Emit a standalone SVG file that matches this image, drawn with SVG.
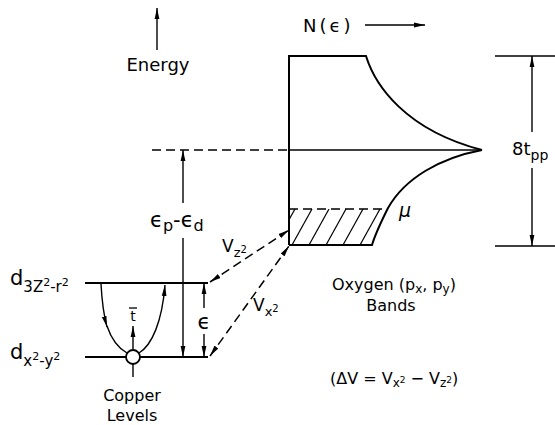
<svg xmlns="http://www.w3.org/2000/svg" width="555" height="425" viewBox="0 0 555 425" font-size="16">
<style>
.ln{stroke:#000;stroke-width:2;fill:none}
.th{stroke:#000;stroke-width:1.4;fill:none}
.ds{stroke:#000;stroke-width:1.5;fill:none;stroke-dasharray:9 5}
.hat{stroke:#000;stroke-width:1.2}
text{font-family:"DejaVu Sans","Liberation Sans",sans-serif;fill:#000}
</style>
<defs>
<marker id="ah" viewBox="0 0 11 6" refX="11" refY="3" markerWidth="11" markerHeight="6" markerUnits="userSpaceOnUse" orient="auto-start-reverse">
<path d="M0,0.6 L11,3 L0,5.4 Z" fill="#000"/>
</marker>
<clipPath id="hclip"><polygon points="289,209 388,209 372,245 289,245"/></clipPath>
</defs>

<g id="energy-axis">
<line class="th" x1="157" y1="50" x2="157" y2="8" stroke-width="1.8" marker-end="url(#ah)"/>
<text x="158" y="71" text-anchor="middle" font-size="18">Energy</text>
</g>

<g id="dos-axis">
<text x="303" y="32" font-size="18" letter-spacing="3">N(ϵ)</text>
<line class="th" x1="365" y1="25" x2="425" y2="25" marker-end="url(#ah)"/>
</g>

<g id="oxygen-band">
<path class="ln" d="M289,245 L289,56 L366,56 C375,85 405,130 482,150"/>
<path class="ln" d="M482,150 C440,158 405,178 388,208 C381,222 375,235 372,245 L289,245"/>
<line class="th" x1="289" y1="150" x2="482" y2="150"/>
<g clip-path="url(#hclip)">
<line class="hat" x1="275" y1="245" x2="295" y2="209"/>
<line class="hat" x1="292" y1="245" x2="312" y2="209"/>
<line class="hat" x1="309" y1="245" x2="329" y2="209"/>
<line class="hat" x1="326" y1="245" x2="346" y2="209"/>
<line class="hat" x1="343" y1="245" x2="363" y2="209"/>
<line class="hat" x1="360" y1="245" x2="380" y2="209"/>
<line class="hat" x1="377" y1="245" x2="397" y2="209"/>
</g>
<line class="ds" x1="289" y1="209" x2="388" y2="209"/>
<text x="399" y="217" font-style="italic" font-size="19">μ</text>
<text x="394" y="290" text-anchor="middle" font-size="16">Oxygen (p<tspan font-size="12" dy="3">x</tspan><tspan dy="-3">, p</tspan><tspan font-size="12" dy="3">y</tspan><tspan dy="-3">)</tspan></text>
<text x="391" y="311" text-anchor="middle" font-size="16">Bands</text>
</g>

<g id="bandwidth">
<line class="th" x1="495" y1="56" x2="555" y2="56"/>
<line class="th" x1="495" y1="246" x2="555" y2="246"/>
<line class="th" x1="532" y1="132" x2="532" y2="56" marker-end="url(#ah)"/>
<line class="th" x1="532" y1="168" x2="532" y2="246" marker-end="url(#ah)"/>
<text x="512" y="155" font-size="18">8t<tspan font-size="14" dy="5">pp</tspan></text>
</g>

<g id="copper-levels">
<line class="ln" x1="85" y1="283" x2="208" y2="283"/>
<line class="ln" x1="85" y1="357" x2="208" y2="357"/>
<text x="10" y="285" font-size="21">d<tspan font-size="15" dy="7">3Z</tspan><tspan font-size="11" dy="-6">2</tspan><tspan font-size="15" dy="6">-r</tspan><tspan font-size="11" dy="-6">2</tspan></text>
<text x="10" y="359" font-size="21">d<tspan font-size="15" dy="7">x</tspan><tspan font-size="11" dy="-6">2</tspan><tspan font-size="15" dy="6">-y</tspan><tspan font-size="11" dy="-6">2</tspan></text>
<path class="th" d="M101,284 C102,303 104,316 107,327" marker-end="url(#ah)"/>
<path class="th" d="M107,326 C111,338 118,348 127,353"/>
<path class="th" d="M139,353 C152,345 162,322 165,285" marker-end="url(#ah)"/>
<circle cx="133" cy="357" r="7" fill="#fff" stroke="#000" stroke-width="1.8"/>
<line class="th" x1="133" y1="364" x2="133" y2="377"/>
<line class="th" x1="133" y1="349" x2="133" y2="326" marker-end="url(#ah)"/>
<line x1="129" y1="308" x2="137" y2="308" stroke="#000" stroke-width="1.3"/>
<text x="133" y="321" text-anchor="middle" font-size="14">t</text>
<text x="132" y="401" text-anchor="middle" font-size="16">Copper</text>
<text x="132" y="421" text-anchor="middle" font-size="16">Levels</text>
</g>

<g id="energies">
<line class="ds" x1="152" y1="150" x2="289" y2="150"/>
<line class="th" x1="183" y1="203" x2="183" y2="150" marker-end="url(#ah)"/>
<line class="th" x1="183" y1="238" x2="183" y2="357" marker-end="url(#ah)"/>
<text x="150" y="227" font-size="21">ϵ<tspan font-size="16" dy="4">p</tspan><tspan dy="-4">-ϵ</tspan><tspan font-size="16" dy="4">d</tspan></text>
<line class="th" x1="204" y1="308" x2="204" y2="283" marker-end="url(#ah)"/>
<line class="th" x1="204" y1="334" x2="204" y2="357" marker-end="url(#ah)"/>
<text x="204" y="329" text-anchor="middle" font-size="21">ϵ</text>
</g>

<g id="connectors">
<line class="ds" x1="210" y1="282" x2="289" y2="230" marker-start="url(#ah)" marker-end="url(#ah)"/>
<line class="ds" x1="210" y1="356" x2="289" y2="246" marker-start="url(#ah)" marker-end="url(#ah)"/>
<text x="222" y="252" font-size="17">V<tspan font-size="13" dy="5">z</tspan><tspan font-size="10" dy="-4">2</tspan></text>
<text x="253" y="311" font-size="17">V<tspan font-size="13" dy="5">x</tspan><tspan font-size="10" dy="-4">2</tspan></text>
</g>

<g id="delta-v">
<text x="330" y="384" font-size="16">(ΔV = V<tspan font-size="12" dy="3">x</tspan><tspan font-size="9" dy="-4">2</tspan><tspan dy="1"> − V</tspan><tspan font-size="12" dy="3">z</tspan><tspan font-size="9" dy="-4">2</tspan><tspan dy="1">)</tspan></text>
</g>
</svg>
